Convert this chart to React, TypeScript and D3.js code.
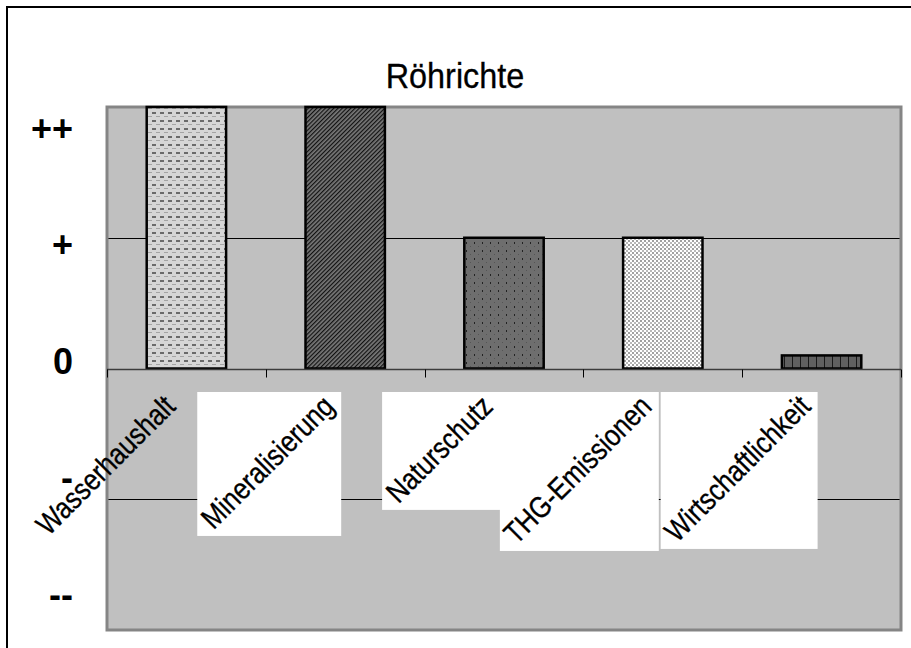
import { useEffect, useRef } from "react"
import * as d3 from "d3"

const categories = ["Wasserhaushalt", "Mineralisierung", "Naturschutz", "THG-Emissionen", "Wirtschaftlichkeit"]
const values = [2, 2, 1, 1, 0.1]
const fills = ["url(#p-wasser)", "url(#p-mineral)", "url(#p-natur)", "url(#p-thg)", "url(#p-wirt)"]
const labelBoxed = [false, true, true, true, true]
const tickValues = [2, 1, 0, -1, -2]
const tickLabels = ["++", "+", "0", "-", "--"]
const gridValues = [1, -1]
const title = "Röhrichte"

const W = 911
const H = 648
const FONT = "'Liberation Sans', Arial, sans-serif"

export default function App() {
  const svgRef = useRef<SVGSVGElement>(null)

  useEffect(() => {
    if (!svgRef.current) return
    const svg = d3.select(svgRef.current)
    svg.selectAll("*").remove()

    const plot = { left: 107, right: 901, top: 107, bottom: 630 }

    const x = d3.scaleBand<string>()
      .domain(categories)
      .range([plot.left, plot.right])
      .paddingInner(0.5)
      .paddingOuter(0.25)

    const y = d3.scaleLinear().domain([-2, 2]).range([plot.bottom, plot.top])
    // die Achsenbeschriftung sitzt im Original etwas gestaucht
    const yLabel = d3.scaleLinear().domain([-2, 2]).range([594, 128])

    // Muster
    const defs = svg.append("defs")

    const pw = defs.append("pattern").attr("id", "p-wasser").attr("patternUnits", "userSpaceOnUse")
      .attr("width", 8).attr("height", 8)
    pw.append("rect").attr("width", 8).attr("height", 8).attr("fill", "#d6d6d6")
    pw.append("rect").attr("x", 0).attr("y", 0).attr("width", 4).attr("height", 2).attr("fill", "#6a6a6a")
    pw.append("rect").attr("x", 4).attr("y", 4).attr("width", 4).attr("height", 1).attr("fill", "#a4a4a4")

    const pm = defs.append("pattern").attr("id", "p-mineral").attr("patternUnits", "userSpaceOnUse")
      .attr("width", 3).attr("height", 3).attr("patternTransform", "rotate(45)")
    pm.append("rect").attr("width", 3).attr("height", 3).attr("fill", "#787878")
    pm.append("rect").attr("x", 0).attr("y", 0).attr("width", 1.2).attr("height", 3).attr("fill", "#111")

    const pn = defs.append("pattern").attr("id", "p-natur").attr("patternUnits", "userSpaceOnUse")
      .attr("width", 8).attr("height", 8)
    pn.append("rect").attr("width", 8).attr("height", 8).attr("fill", "#6e6e6e")
    pn.append("rect").attr("x", 2).attr("y", 2).attr("width", 1).attr("height", 2).attr("fill", "#222")
    pn.append("rect").attr("x", 6).attr("y", 6).attr("width", 1).attr("height", 1).attr("fill", "#555")

    const pt = defs.append("pattern").attr("id", "p-thg").attr("patternUnits", "userSpaceOnUse")
      .attr("width", 4).attr("height", 4)
    pt.append("rect").attr("width", 4).attr("height", 4).attr("fill", "#ffffff")
    pt.append("rect").attr("x", 0).attr("y", 0).attr("width", 2).attr("height", 2).attr("fill", "#a0a0a0")
    pt.append("rect").attr("x", 2).attr("y", 2).attr("width", 2).attr("height", 2).attr("fill", "#b8b8b8")

    const pr = defs.append("pattern").attr("id", "p-wirt").attr("patternUnits", "userSpaceOnUse")
      .attr("width", 8).attr("height", 8)
    pr.append("rect").attr("width", 8).attr("height", 8).attr("fill", "#606060")
    pr.append("rect").attr("x", 0).attr("y", 0).attr("width", 1).attr("height", 8).attr("fill", "#1a1a1a")

    // äußerer Rahmen
    svg.append("rect")
      .attr("x", 7).attr("y", 7).attr("width", W + 20).attr("height", H + 20)
      .attr("fill", "white").attr("stroke", "black").attr("stroke-width", 2)

    // Titel (schmal laufende Schrift wie im Original)
    svg.append("text")
      .attr("transform", "translate(455,88) scale(0.9,1)")
      .attr("text-anchor", "middle")
      .attr("font-family", FONT).attr("font-size", 36)
      .attr("stroke", "black").attr("stroke-width", 0.3)
      .text(title)

    // Zeichenfläche
    svg.append("rect")
      .attr("x", plot.left).attr("y", plot.top)
      .attr("width", plot.right - plot.left).attr("height", plot.bottom - plot.top)
      .attr("fill", "#c0c0c0")

    svg.selectAll(".grid")
      .data(gridValues)
      .enter().append("line")
      .attr("x1", plot.left).attr("x2", plot.right)
      .attr("y1", d => Math.round(y(d)) + 0.5).attr("y2", d => Math.round(y(d)) + 0.5)
      .attr("stroke", "black").attr("stroke-width", 1)

    svg.append("rect")
      .attr("x", plot.left).attr("y", plot.top)
      .attr("width", plot.right - plot.left).attr("height", plot.bottom - plot.top)
      .attr("fill", "none").attr("stroke", "#858585").attr("stroke-width", 3)

    // Balken
    svg.selectAll(".bar")
      .data(categories)
      .enter().append("rect")
      .attr("x", d => x(d) as number)
      .attr("y", (d, i) => y(Math.max(0, values[i])))
      .attr("width", x.bandwidth())
      .attr("height", (d, i) => Math.abs(y(values[i]) - y(0)))
      .attr("fill", (d, i) => fills[i])
      .attr("stroke", "black").attr("stroke-width", 2.5)

    // Nulllinie mit Teilstrichen
    const y0 = Math.round(y(0)) + 0.5
    svg.append("line")
      .attr("x1", plot.left).attr("x2", plot.right)
      .attr("y1", y0).attr("y2", y0)
      .attr("stroke", "#3c3c3c").attr("stroke-width", 1.5)

    const step = x.step()
    const tickXs = d3.range(categories.length + 1).map(i => plot.left + i * step)
    svg.selectAll(".tick")
      .data(tickXs)
      .enter().append("line")
      .attr("x1", d => Math.round(d) + 0.5).attr("x2", d => Math.round(d) + 0.5)
      .attr("y1", y0).attr("y2", y0 + 8)
      .attr("stroke", "black").attr("stroke-width", 1)

    // Y-Beschriftung
    svg.selectAll(".ylab")
      .data(tickValues)
      .enter().append("text")
      .attr("x", 73)
      .attr("y", d => yLabel(d) + 0.35 * 36)
      .attr("text-anchor", "end")
      .attr("font-family", FONT).attr("font-size", 36).attr("font-weight", "bold")
      .text((d, i) => tickLabels[i])

    // Kategorien, um 45° gedreht, mit weißem Kasten
    const fs = 30
    const sx = 0.85
    const pad = 1
    const asc = 0.72 * fs
    const desc = 0.21 * fs
    const boxTop = 392
    const k = Math.SQRT1_2

    categories.forEach((c, i) => {
      const center = (x(c) as number) + x.bandwidth() / 2
      const boxRight = center - 4
      const g = svg.append("g")
      const rect = g.append("rect").attr("fill", labelBoxed[i] ? "white" : "none")
      const px = boxRight - pad - k * desc
      const py = boxTop + pad + k * asc
      const t = g.append("text")
        .attr("transform", `translate(${px},${py}) rotate(-45) scale(${sx},1)`)
        .attr("text-anchor", "end")
        .attr("font-family", FONT).attr("font-size", fs)
        .attr("stroke", "black").attr("stroke-width", 0.35)
        .text(c)
      const L = (t.node() as SVGTextElement).getComputedTextLength() * sx
      const size = k * (L + asc + desc) + 2 * pad
      rect.attr("x", boxRight - size).attr("y", boxTop).attr("width", size).attr("height", size)
    })
  }, [])

  return (
    <svg
      ref={svgRef}
      width={W}
      height={H}
      style={{ position: "absolute", left: 0, top: 0, background: "white" }}
    />
  )
}
